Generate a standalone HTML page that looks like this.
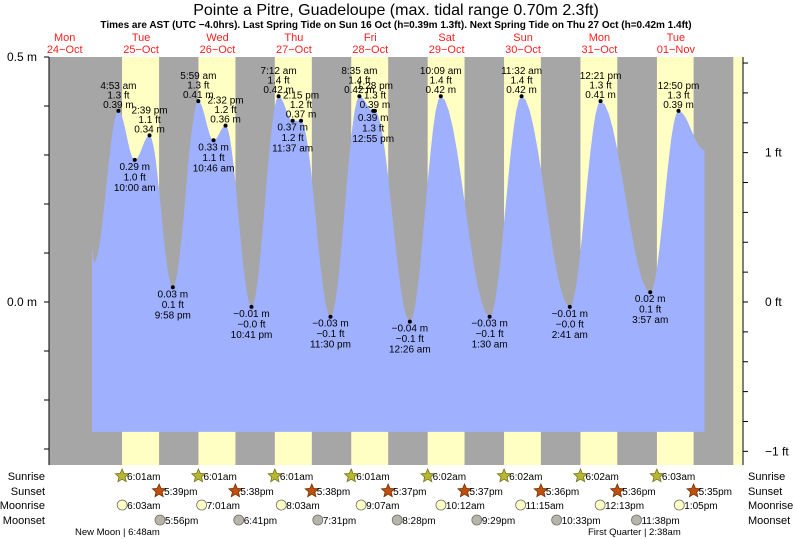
<!DOCTYPE html>
<html><head><meta charset="utf-8"><style>
html,body{margin:0;padding:0;background:#fff;}
svg{display:block;font-family:"Liberation Sans",sans-serif;}
</style></head><body>
<svg id="chart" width="793" height="539" viewBox="0 0 793 539" xmlns="http://www.w3.org/2000/svg">
<text x="396" y="15" font-size="16" text-anchor="middle">Pointe a Pitre, Guadeloupe (max. tidal range 0.70m 2.3ft)</text>
<text x="396" y="28" font-size="10" font-weight="bold" text-anchor="middle">Times are AST (UTC −4.0hrs). Last Spring Tide on Sun 16 Oct (h=0.39m 1.3ft). Next Spring Tide on Thu 27 Oct (h=0.42m 1.4ft)</text>
<g id="bands"></g><g id="tide"></g><g id="axes"></g><g id="labels"></g><g id="rows"></g>
</svg>
<script>
// ---- data ----
const dayNames = ["Mon","Tue","Wed","Thu","Fri","Sat","Sun","Mon","Tue"];
const dayDates = ["24−Oct","25−Oct","26−Oct","27−Oct","28−Oct","29−Oct","30−Oct","31−Oct","01−Nov"];
const extremeTime = ["4:53 am","10:00 am","2:39 pm","9:58 pm","5:59 am","10:46 am","2:32 pm","10:41 pm","7:12 am","11:37 am","2:15 pm","11:30 pm","8:35 am","12:55 pm","1:28 pm","12:26 am","10:09 am","1:30 am","11:32 am","2:41 am","12:21 pm","3:57 am","12:50 pm"];
const extremeDay2 = [0,0,0,0,1,1,1,1,2,2,2,2,3,3,3,4,4,5,5,6,6,7,7];
const extremeHeight = [0.39,0.29,0.34,0.03,0.41,0.33,0.36,-0.01,0.42,0.37,0.37,-0.03,0.42,0.39,0.39,-0.04,0.42,-0.03,0.42,-0.01,0.41,0.02,0.39];
const extremeFt = ["1.3","1.0","1.1","0.1","1.3","1.1","1.2","−0.0","1.4","1.2","1.2","−0.1","1.4","1.3","1.3","−0.1","1.4","−0.1","1.4","−0.0","1.3","0.1","1.3"];
const extremeM = ["0.39","0.29","0.34","0.03","0.41","0.33","0.36","−0.01","0.42","0.37","0.37","−0.03","0.42","0.39","0.39","−0.04","0.42","−0.03","0.42","−0.01","0.41","0.02","0.39"];
const extremeIsHigh = [1,0,1,0,1,0,1,0,1,0,1,0,1,0,1,0,1,0,1,0,1,0,1];
const curveStartHours = [-3.4,-2.8];
const curveStartHeight = [0.11,0.08];
const curveEndHours = [189.0];
const curveEndHeight = [0.31];
const sunrise = ["6:01am","6:01am","6:01am","6:01am","6:02am","6:02am","6:02am","6:03am","6:03am"];
const sunset = ["5:39pm","5:38pm","5:38pm","5:37pm","5:37pm","5:36pm","5:36pm","5:35pm"];
const moonrise = ["6:03am","7:01am","8:03am","9:07am","10:12am","11:15am","12:13pm","1:05pm"];
const moonset = ["5:56pm","6:41pm","7:31pm","8:28pm","9:29pm","10:33pm","11:38pm"];
const mTicks = [0.5,0.4,0.3,0.2,0.1,0.0,-0.1,-0.2,-0.3];
const mTickLabels = {"0.5":"0.5 m","0":"0.0 m"};
const ftTicks = [1.6,1.4,1.2,1.0,0.8,0.6,0.4,0.2,0,-0.2,-0.4,-0.6,-0.8,-1.0];
// ---- scales ----
const X0=102.9, PXH=3.183, Y0=302, PXM=490, PL=49, PR=743, PT=57, PB=465, FILLBOT=-0.265;
const xs = h => X0 + h*PXH;
const ys = m => Y0 - m*PXM;
function parseT(s){const r=s.match(/(\d+):(\d+)\s*(am|pm)/);let h=+r[1]%12;if(r[3]=="pm")h+=12;return h+ (+r[2])/60;}
const NS="http://www.w3.org/2000/svg";
function mk(tag,parent,attrs){const e=document.createElementNS(NS,tag);for(const k in attrs)e.setAttribute(k,attrs[k]);parent.appendChild(e);return e;}
const bands=document.getElementById('bands'),tide=document.getElementById('tide'),axes=document.getElementById('axes'),labels=document.getElementById('labels'),rows=document.getElementById('rows');
let bg=mk('rect',bands,{x:PL,y:PT,width:PR-PL,height:PB-PT,fill:'#a6a6a6'});


for(let d=0;d<sunrise.length;d++){
  const a=xs(d*24+parseT(sunrise[d]));
  const b=d<sunset.length?xs(d*24+parseT(sunset[d])):PR;
  const r=mk('rect',bands,{x:a,y:PT,width:Math.min(b,PR)-a,height:PB-PT,fill:'#ffffc4'});
  
  
}
for(let i=0;i<dayNames.length;i++){
  const cx=xs((i-1)*24+12);
  const t1=mk('text',labels,{x:cx,y:41,'font-size':11,fill:'#ff2020','text-anchor':'middle'});t1.textContent=dayNames[i];
  
  
  const t2=mk('text',labels,{x:cx,y:53,'font-size':11,fill:'#ff2020','text-anchor':'middle'});t2.textContent=dayDates[i];
  
  
}
const pts=[];
for(let i=0;i<curveStartHours.length;i++)pts.push([curveStartHours[i],curveStartHeight[i]]);
for(let i=0;i<extremeHeight.length;i++)pts.push([extremeDay2[i]*24+parseT(extremeTime[i]),extremeHeight[i]]);
for(let i=0;i<curveEndHours.length;i++)pts.push([curveEndHours[i],curveEndHeight[i]]);
let d=`M${xs(pts[0][0])},${ys(FILLBOT)} L${xs(pts[0][0])},${ys(pts[0][1])}`;
for(let i=0;i<pts.length-1;i++){
  const [h0,v0]=pts[i],[h1,v1]=pts[i+1];
  for(let k=1;k<=12;k++){const t=k/12;const v=v0+(v1-v0)*(1-Math.cos(Math.PI*t))/2;d+=` L${xs(h0+(h1-h0)*t).toFixed(1)},${ys(v).toFixed(1)}`;}
}
d+=` L${xs(pts[pts.length-1][0])},${ys(FILLBOT)} Z`;
const area=mk('path',tide,{d:d,fill:'#9fb0ff'});


for(let i=0;i<extremeHeight.length;i++){
  const cx=xs(extremeDay2[i]*24+parseT(extremeTime[i])),cy=ys(extremeHeight[i]);
  const dot=mk('circle',labels,{cx:cx,cy:cy,r:2,fill:'#000'});
  
  
  const lines=extremeIsHigh[i]?[[extremeTime[i],-22],[extremeFt[i]+' ft',-12.5],[extremeM[i]+' m',-3]]:[[extremeM[i]+' m',10],[extremeFt[i]+' ft',20.5],[extremeTime[i],31]];
  for(const [s,o] of lines){const t=mk('text',labels,{x:cx,y:cy+o,'font-size':10,'text-anchor':'middle',fill:'#000'});t.textContent=s;
    
    }
}
mk('line',axes,{x1:PL,y1:PT,x2:PL,y2:PB,stroke:'#000'});
for(const m of mTicks){mk('line',axes,{x1:PL-5,y1:ys(m),x2:PL,y2:ys(m),stroke:'#000'});
  const lab=mTickLabels[String(m)];
  if(lab){const t=mk('text',axes,{x:37,y:ys(m)+4,'font-size':12,'text-anchor':'end'});t.textContent=lab;
    
    }}
mk('line',axes,{x1:PR,y1:PT,x2:PR,y2:PB,stroke:'#000'});
for(const f of ftTicks){const y=ys(f*0.3048);mk('line',axes,{x1:PR,y1:y,x2:PR+5,y2:y,stroke:'#000'});
  if(Math.abs(f)===1||f===0){const t=mk('text',axes,{x:765,y:y+4,'font-size':12});t.textContent=(f<0?'−1':f===0?'0':'1')+' ft';
    
    }}
const rowNames=["Sunrise","Sunset","Moonrise","Moonset"],rowY=[480,495,509,524];
rowNames.forEach((n,i)=>{
  const a=mk('text',rows,{x:45,y:rowY[i],'font-size':11,'text-anchor':'end'});a.textContent=n;
  
  
  const b=mk('text',rows,{x:748,y:rowY[i],'font-size':11});b.textContent=n;
  
  
});
function star(cx,cy,fill,stroke){let p='';for(let k=0;k<10;k++){const r=k%2?3.2:7,a=-Math.PI/2+k*Math.PI/5;p+=(k?' L':'M')+(cx+r*Math.cos(a)).toFixed(1)+','+(cy+r*Math.sin(a)).toFixed(1);}return mk('path',rows,{d:p+'Z',fill:fill,stroke:stroke,'stroke-width':0.8});}
function ev(arr,row,kind){
  arr.forEach((s,dd)=>{
    const x=xs(dd*24+parseT(s)),y=rowY[row]-4;
    if(x>PR)return;
    let ic;
    if(kind==='sr')ic=star(x,y,'#b8b830','#707020');
    else if(kind==='ss')ic=star(x,y,'#c05010','#703000');
    else ic=mk('circle',rows,{cx:x,cy:y,r:5,fill:kind==='mr'?'#ffffc4':'#b8b4a8',stroke:'#707070','stroke-width':0.8});
    
    
    const t=mk('text',rows,{x:x+5,y:rowY[row],'font-size':10});t.textContent=s;
    
    
  });
}
ev(sunrise.slice(0,8),0,'sr');ev(sunset,1,'ss');ev(moonrise,2,'mr');ev(moonset,3,'ms');
const ph1=mk('text',rows,{x:75,y:535,'font-size':9.5});ph1.textContent='New Moon | 6:48am';


const ph2=mk('text',rows,{x:588,y:535,'font-size':9.5});ph2.textContent='First Quarter | 2:38am';


</script>
</body></html>
